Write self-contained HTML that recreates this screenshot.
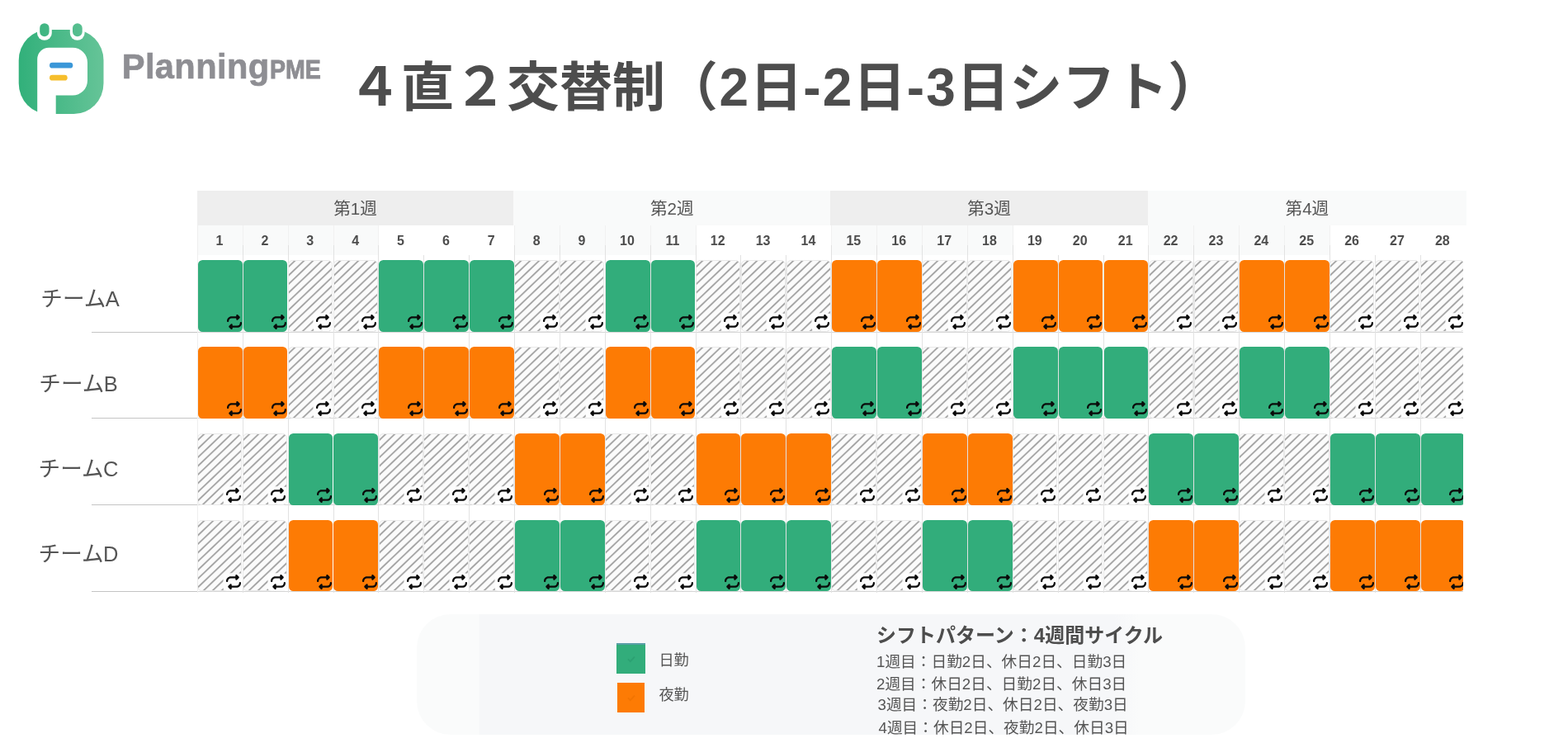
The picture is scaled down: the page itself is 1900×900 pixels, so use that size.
<!DOCTYPE html>
<html lang="ja">
<head>
<meta charset="utf-8">
<title>４直２交替制（2日-2日-3日シフト）</title>
<style>
*{box-sizing:border-box;margin:0;padding:0}
html,body{width:1900px;height:900px;background:#fff;overflow:hidden}
body{position:relative;font-family:"Liberation Sans","Noto Sans CJK JP",sans-serif;color:#4d4d4d}
.logo{position:absolute;left:20px;top:26px;width:110px;height:116px}
.brand{position:absolute;left:147.8px;top:56.2px;font-weight:700;color:#8e8e93;font-size:41.6px;line-height:50px;white-space:nowrap;letter-spacing:0.38px;-webkit-text-stroke:0.7px #8e8e93}
.brand small{display:inline-block;position:relative;top:-0.6px;font-size:31.2px;letter-spacing:0;margin-left:0.4px;transform:scaleX(0.915);transform-origin:0 50%;-webkit-text-stroke:0.9px #8e8e93}
h1{position:absolute;left:422px;top:59.3px;font-size:64px;line-height:94px;font-weight:700;color:#4d4d4d;white-space:nowrap;letter-spacing:0}
h1 b{display:inline-block;width:38.4px;text-align:center;font-weight:700}
h1 i{display:inline-block;width:23px;text-align:center;font-style:normal}
.grid{position:absolute;left:0;top:0;width:1900px;height:740px}
.wk{position:absolute;top:231.4px;height:41.6px;line-height:43.4px;text-align:center;font-size:20.6px;color:#555}
.wk.dark{background:#eeeeee}
.wk.light{background:#f9fafa}
.day{position:absolute;top:41px;height:36px;line-height:37px;text-align:center;font-size:16px;font-weight:700;color:#4d4d4d;padding-right:1.6px}
.day.sh{background:#f9fafa}
.clip{position:absolute;left:239px;top:232px;width:1534.2px;height:500px;overflow:hidden}
.vl{position:absolute;top:41px;width:1px;height:445px;background:linear-gradient(#f1f1f1 0,#f1f1f1 24px,#e2e2e2 24px,#e2e2e2 100%)}
.vl.short{top:77px;height:409px;background:#e2e2e2}
.vl.faint{background:#eee}
.hl{position:absolute;left:111px;width:1662.2px;height:1px;background:linear-gradient(90deg,#c4c4c4 0,#c4c4c4 128px,#d6d6d6 128px)}
.team{position:absolute;width:120px;height:40px;line-height:40px;font-size:26.6px;font-weight:400;color:#555;white-space:nowrap}
.team span{font-size:25.5px;margin-left:-0.5px}
.b{position:absolute;width:53.9px;height:86.4px;margin-top:-0.4px;border-radius:5.5px}
.b.g{background:#32ad7b}
.b.o{background:#fd7b04}
.b.h{width:54.4px;height:86.6px;margin-top:-0.4px;background:#fbfbfb repeating-linear-gradient(136.3deg,rgba(156,156,156,0) 0,rgba(156,156,156,0) 3.45px,rgba(156,156,156,.95) 4.65px,rgba(156,156,156,.95) 5.25px,rgba(156,156,156,0) 6.45px,rgba(156,156,156,0) 7.58px);border:1px solid #e9e9e9}
.b svg{position:absolute;right:1.2px;bottom:2.6px;width:18px;height:18px}
.b.h svg{right:0.9px;bottom:1.6px;background:#fdfdfd;border-radius:2px;box-shadow:0 0 0 1.5px #fdfdfd,-2px 0 0 1.5px #fdfdfd}
.legend{position:absolute;left:505px;top:744.3px;width:1003.5px;height:145.4px;border-radius:41px;background:linear-gradient(90deg,#fafbfb 0,#fafbfb 75px,#f6f7f9 76px,#f6f7f9 845px,#fafbfb 875px)}
.sw{position:absolute}
.sw svg{position:absolute;left:50%;top:50%;width:16px;height:16px;margin:-8px 0 0 -8px}
.lt{position:absolute;font-size:18.2px;line-height:24px;color:#555;white-space:nowrap}
.pt{position:absolute;left:1062px;top:754px;font-size:24px;line-height:32px;font-weight:700;color:#4d4d4d;white-space:nowrap}
.pl{position:absolute;margin-top:0.5px;font-size:18.7px;line-height:26px;color:#555;white-space:nowrap}
</style>
</head>
<body>
<svg width="0" height="0" style="position:absolute">
<defs>
<linearGradient id="lg" gradientUnits="userSpaceOnUse" x1="22" y1="0" x2="126" y2="0"><stop offset="0" stop-color="#31b07a"/><stop offset="1" stop-color="#66c498"/></linearGradient>
<path id="rp" fill="#0a0a0a" d="M0 224c0 17.700 14.300 32 32 32s32-14.300 32-32c0-53 43-96 96-96H320v32c0 12.900 7.800 24.600 19.800 29.600s25.700 2.200 34.900-6.900l64-64c12.500-12.500 12.500-32.800 0-45.300l-64-64c-9.200-9.200-22.900-11.900-34.900-6.900S320 19.100 320 32V64H160C71.600 64 0 135.600 0 224zm512 64c0-17.700-14.300-32-32-32s-32 14.300-32 32c0 53-43 96-96 96H192V352c0-12.900-7.800-24.600-19.800-29.600s-25.700-2.200-34.900 6.900l-64 64c-12.500 12.500-12.500 32.800 0 45.300l64 64c9.200 9.200 22.900 11.900 34.900 6.900s19.800-16.600 19.800-29.600V448H352c88.400 0 160-71.600 160-160z"/>
</defs>
</svg>
<svg class="logo" viewBox="20 26 110 116">
<rect x="22.7" y="36" width="102.8" height="102" rx="36" ry="37" fill="url(#lg)"/>
<rect x="45" y="25" width="17.8" height="23.8" rx="8.9" fill="#fff"/>
<rect x="84.800" y="25" width="17.8" height="23.8" rx="8.9" fill="#fff"/>
<rect x="48.200" y="28.2" width="11.400" height="16" rx="5.700" fill="url(#lg)"/>
<rect x="88" y="28.2" width="11.700" height="16" rx="5.800" fill="url(#lg)"/>
<path d="M45.200 142V71.700a14 14 0 0 1 14-14H88a18 18 0 0 1 18 18v21.800a18 18 0 0 1-18 18H67.700V142z" fill="#fff"/>
<rect x="60" y="75.700" width="28.300" height="6.900" rx="3.450" fill="#3b97d8"/>
<rect x="60" y="90.700" width="21.700" height="6.900" rx="3.450" fill="#f6be2c"/>
</svg>
<div class="brand">Planning<small>PME</small></div>
<h1>４直２交替制（<b>2</b>日<i>-</i><b>2</b>日<i>-</i><b>3</b>日シフト）</h1>
<div class="grid">
<div class="wk dark" style="left:239.0px;width:383.2px">第1週</div>
<div class="wk light" style="left:622.2px;width:384.2px">第2週</div>
<div class="wk dark" style="left:1006.4px;width:384.2px">第3週</div>
<div class="wk light" style="left:1390.6px;width:386.6px">第4週</div>
<div class="hl" style="top:715.8px"></div>
<div class="hl" style="top:611.1px"></div>
<div class="hl" style="top:506.3px"></div>
<div class="hl" style="top:401.5px"></div>
<div class="clip">
<div class="day sh" style="left:0.3px;width:54.9px">1</div>
<div class="day sh" style="left:55.2px;width:54.9px">2</div>
<div class="day sh" style="left:110.1px;width:54.9px">3</div>
<div class="day sh" style="left:165.0px;width:54.9px">4</div>
<div class="day" style="left:219.8px;width:54.9px">5</div>
<div class="day" style="left:274.7px;width:54.9px">6</div>
<div class="day" style="left:329.6px;width:54.9px">7</div>
<div class="day sh" style="left:384.5px;width:54.9px">8</div>
<div class="day sh" style="left:439.4px;width:54.9px">9</div>
<div class="day sh" style="left:494.3px;width:54.9px">10</div>
<div class="day sh" style="left:549.2px;width:54.9px">11</div>
<div class="day" style="left:604.0px;width:54.9px">12</div>
<div class="day" style="left:658.9px;width:54.9px">13</div>
<div class="day" style="left:713.8px;width:54.9px">14</div>
<div class="day sh" style="left:768.7px;width:54.9px">15</div>
<div class="day sh" style="left:823.6px;width:54.9px">16</div>
<div class="day sh" style="left:878.5px;width:54.9px">17</div>
<div class="day sh" style="left:933.3px;width:54.9px">18</div>
<div class="day" style="left:988.2px;width:54.9px">19</div>
<div class="day" style="left:1043.1px;width:54.9px">20</div>
<div class="day" style="left:1098.0px;width:54.9px">21</div>
<div class="day sh" style="left:1152.9px;width:54.9px">22</div>
<div class="day sh" style="left:1207.8px;width:54.9px">23</div>
<div class="day sh" style="left:1262.7px;width:54.9px">24</div>
<div class="day sh" style="left:1317.5px;width:54.9px">25</div>
<div class="day" style="left:1372.4px;width:54.9px">26</div>
<div class="day" style="left:1427.3px;width:54.9px">27</div>
<div class="day" style="left:1482.2px;width:54.9px">28</div>
<div class="vl faint" style="left:-0.2px"></div>
<div class="vl" style="left:54.7px"></div>
<div class="vl" style="left:109.6px"></div>
<div class="vl" style="left:164.5px"></div>
<div class="vl" style="left:219.3px"></div>
<div class="vl short" style="left:274.2px"></div>
<div class="vl short" style="left:329.1px"></div>
<div class="vl" style="left:384.0px"></div>
<div class="vl" style="left:438.9px"></div>
<div class="vl" style="left:493.8px"></div>
<div class="vl" style="left:548.7px"></div>
<div class="vl" style="left:603.5px"></div>
<div class="vl short" style="left:658.4px"></div>
<div class="vl short" style="left:713.3px"></div>
<div class="vl" style="left:768.2px"></div>
<div class="vl" style="left:823.1px"></div>
<div class="vl" style="left:878.0px"></div>
<div class="vl" style="left:932.8px"></div>
<div class="vl" style="left:987.7px"></div>
<div class="vl short" style="left:1042.6px"></div>
<div class="vl short" style="left:1097.5px"></div>
<div class="vl" style="left:1152.4px"></div>
<div class="vl" style="left:1207.3px"></div>
<div class="vl" style="left:1262.2px"></div>
<div class="vl" style="left:1317.0px"></div>
<div class="vl" style="left:1371.9px"></div>
<div class="vl short" style="left:1426.8px"></div>
<div class="vl short" style="left:1481.7px"></div>
<div class="b g" style="left:0.8px;top:83.6px"><svg viewBox="0 0 512 512"><use href="#rp"/></svg></div>
<div class="b g" style="left:55.6px;top:83.6px"><svg viewBox="0 0 512 512"><use href="#rp"/></svg></div>
<div class="b h" style="left:109.8px;top:83.6px"><svg viewBox="0 0 512 512"><use href="#rp"/></svg></div>
<div class="b h" style="left:164.7px;top:83.6px"><svg viewBox="0 0 512 512"><use href="#rp"/></svg></div>
<div class="b g" style="left:220.3px;top:83.6px"><svg viewBox="0 0 512 512"><use href="#rp"/></svg></div>
<div class="b g" style="left:275.2px;top:83.6px"><svg viewBox="0 0 512 512"><use href="#rp"/></svg></div>
<div class="b g" style="left:330.1px;top:83.6px"><svg viewBox="0 0 512 512"><use href="#rp"/></svg></div>
<div class="b h" style="left:384.2px;top:83.6px"><svg viewBox="0 0 512 512"><use href="#rp"/></svg></div>
<div class="b h" style="left:439.1px;top:83.6px"><svg viewBox="0 0 512 512"><use href="#rp"/></svg></div>
<div class="b g" style="left:494.7px;top:83.6px"><svg viewBox="0 0 512 512"><use href="#rp"/></svg></div>
<div class="b g" style="left:549.6px;top:83.6px"><svg viewBox="0 0 512 512"><use href="#rp"/></svg></div>
<div class="b h" style="left:603.7px;top:83.6px"><svg viewBox="0 0 512 512"><use href="#rp"/></svg></div>
<div class="b h" style="left:658.6px;top:83.6px"><svg viewBox="0 0 512 512"><use href="#rp"/></svg></div>
<div class="b h" style="left:713.5px;top:83.6px"><svg viewBox="0 0 512 512"><use href="#rp"/></svg></div>
<div class="b o" style="left:769.1px;top:83.6px"><svg viewBox="0 0 512 512"><use href="#rp"/></svg></div>
<div class="b o" style="left:824.0px;top:83.6px"><svg viewBox="0 0 512 512"><use href="#rp"/></svg></div>
<div class="b h" style="left:878.2px;top:83.6px"><svg viewBox="0 0 512 512"><use href="#rp"/></svg></div>
<div class="b h" style="left:933.0px;top:83.6px"><svg viewBox="0 0 512 512"><use href="#rp"/></svg></div>
<div class="b o" style="left:988.7px;top:83.6px"><svg viewBox="0 0 512 512"><use href="#rp"/></svg></div>
<div class="b o" style="left:1043.6px;top:83.6px"><svg viewBox="0 0 512 512"><use href="#rp"/></svg></div>
<div class="b o" style="left:1098.5px;top:83.6px"><svg viewBox="0 0 512 512"><use href="#rp"/></svg></div>
<div class="b h" style="left:1152.6px;top:83.6px"><svg viewBox="0 0 512 512"><use href="#rp"/></svg></div>
<div class="b h" style="left:1207.5px;top:83.6px"><svg viewBox="0 0 512 512"><use href="#rp"/></svg></div>
<div class="b o" style="left:1263.1px;top:83.6px"><svg viewBox="0 0 512 512"><use href="#rp"/></svg></div>
<div class="b o" style="left:1318.0px;top:83.6px"><svg viewBox="0 0 512 512"><use href="#rp"/></svg></div>
<div class="b h" style="left:1372.1px;top:83.6px"><svg viewBox="0 0 512 512"><use href="#rp"/></svg></div>
<div class="b h" style="left:1427.0px;top:83.6px"><svg viewBox="0 0 512 512"><use href="#rp"/></svg></div>
<div class="b h" style="left:1481.9px;top:83.6px"><svg viewBox="0 0 512 512"><use href="#rp"/></svg></div>
<div class="b o" style="left:0.8px;top:188.5px"><svg viewBox="0 0 512 512"><use href="#rp"/></svg></div>
<div class="b o" style="left:55.6px;top:188.5px"><svg viewBox="0 0 512 512"><use href="#rp"/></svg></div>
<div class="b h" style="left:109.8px;top:188.5px"><svg viewBox="0 0 512 512"><use href="#rp"/></svg></div>
<div class="b h" style="left:164.7px;top:188.5px"><svg viewBox="0 0 512 512"><use href="#rp"/></svg></div>
<div class="b o" style="left:220.3px;top:188.5px"><svg viewBox="0 0 512 512"><use href="#rp"/></svg></div>
<div class="b o" style="left:275.2px;top:188.5px"><svg viewBox="0 0 512 512"><use href="#rp"/></svg></div>
<div class="b o" style="left:330.1px;top:188.5px"><svg viewBox="0 0 512 512"><use href="#rp"/></svg></div>
<div class="b h" style="left:384.2px;top:188.5px"><svg viewBox="0 0 512 512"><use href="#rp"/></svg></div>
<div class="b h" style="left:439.1px;top:188.5px"><svg viewBox="0 0 512 512"><use href="#rp"/></svg></div>
<div class="b o" style="left:494.7px;top:188.5px"><svg viewBox="0 0 512 512"><use href="#rp"/></svg></div>
<div class="b o" style="left:549.6px;top:188.5px"><svg viewBox="0 0 512 512"><use href="#rp"/></svg></div>
<div class="b h" style="left:603.7px;top:188.5px"><svg viewBox="0 0 512 512"><use href="#rp"/></svg></div>
<div class="b h" style="left:658.6px;top:188.5px"><svg viewBox="0 0 512 512"><use href="#rp"/></svg></div>
<div class="b h" style="left:713.5px;top:188.5px"><svg viewBox="0 0 512 512"><use href="#rp"/></svg></div>
<div class="b g" style="left:769.1px;top:188.5px"><svg viewBox="0 0 512 512"><use href="#rp"/></svg></div>
<div class="b g" style="left:824.0px;top:188.5px"><svg viewBox="0 0 512 512"><use href="#rp"/></svg></div>
<div class="b h" style="left:878.2px;top:188.5px"><svg viewBox="0 0 512 512"><use href="#rp"/></svg></div>
<div class="b h" style="left:933.0px;top:188.5px"><svg viewBox="0 0 512 512"><use href="#rp"/></svg></div>
<div class="b g" style="left:988.7px;top:188.5px"><svg viewBox="0 0 512 512"><use href="#rp"/></svg></div>
<div class="b g" style="left:1043.6px;top:188.5px"><svg viewBox="0 0 512 512"><use href="#rp"/></svg></div>
<div class="b g" style="left:1098.5px;top:188.5px"><svg viewBox="0 0 512 512"><use href="#rp"/></svg></div>
<div class="b h" style="left:1152.6px;top:188.5px"><svg viewBox="0 0 512 512"><use href="#rp"/></svg></div>
<div class="b h" style="left:1207.5px;top:188.5px"><svg viewBox="0 0 512 512"><use href="#rp"/></svg></div>
<div class="b g" style="left:1263.1px;top:188.5px"><svg viewBox="0 0 512 512"><use href="#rp"/></svg></div>
<div class="b g" style="left:1318.0px;top:188.5px"><svg viewBox="0 0 512 512"><use href="#rp"/></svg></div>
<div class="b h" style="left:1372.1px;top:188.5px"><svg viewBox="0 0 512 512"><use href="#rp"/></svg></div>
<div class="b h" style="left:1427.0px;top:188.5px"><svg viewBox="0 0 512 512"><use href="#rp"/></svg></div>
<div class="b h" style="left:1481.9px;top:188.5px"><svg viewBox="0 0 512 512"><use href="#rp"/></svg></div>
<div class="b h" style="left:0.0px;top:293.5px"><svg viewBox="0 0 512 512"><use href="#rp"/></svg></div>
<div class="b h" style="left:54.9px;top:293.5px"><svg viewBox="0 0 512 512"><use href="#rp"/></svg></div>
<div class="b g" style="left:110.5px;top:293.5px"><svg viewBox="0 0 512 512"><use href="#rp"/></svg></div>
<div class="b g" style="left:165.4px;top:293.5px"><svg viewBox="0 0 512 512"><use href="#rp"/></svg></div>
<div class="b h" style="left:219.5px;top:293.5px"><svg viewBox="0 0 512 512"><use href="#rp"/></svg></div>
<div class="b h" style="left:274.4px;top:293.5px"><svg viewBox="0 0 512 512"><use href="#rp"/></svg></div>
<div class="b h" style="left:329.3px;top:293.5px"><svg viewBox="0 0 512 512"><use href="#rp"/></svg></div>
<div class="b o" style="left:384.9px;top:293.5px"><svg viewBox="0 0 512 512"><use href="#rp"/></svg></div>
<div class="b o" style="left:439.8px;top:293.5px"><svg viewBox="0 0 512 512"><use href="#rp"/></svg></div>
<div class="b h" style="left:494.0px;top:293.5px"><svg viewBox="0 0 512 512"><use href="#rp"/></svg></div>
<div class="b h" style="left:548.9px;top:293.5px"><svg viewBox="0 0 512 512"><use href="#rp"/></svg></div>
<div class="b o" style="left:604.5px;top:293.5px"><svg viewBox="0 0 512 512"><use href="#rp"/></svg></div>
<div class="b o" style="left:659.4px;top:293.5px"><svg viewBox="0 0 512 512"><use href="#rp"/></svg></div>
<div class="b o" style="left:714.3px;top:293.5px"><svg viewBox="0 0 512 512"><use href="#rp"/></svg></div>
<div class="b h" style="left:768.4px;top:293.5px"><svg viewBox="0 0 512 512"><use href="#rp"/></svg></div>
<div class="b h" style="left:823.3px;top:293.5px"><svg viewBox="0 0 512 512"><use href="#rp"/></svg></div>
<div class="b o" style="left:878.9px;top:293.5px"><svg viewBox="0 0 512 512"><use href="#rp"/></svg></div>
<div class="b o" style="left:933.8px;top:293.5px"><svg viewBox="0 0 512 512"><use href="#rp"/></svg></div>
<div class="b h" style="left:987.9px;top:293.5px"><svg viewBox="0 0 512 512"><use href="#rp"/></svg></div>
<div class="b h" style="left:1042.8px;top:293.5px"><svg viewBox="0 0 512 512"><use href="#rp"/></svg></div>
<div class="b h" style="left:1097.7px;top:293.5px"><svg viewBox="0 0 512 512"><use href="#rp"/></svg></div>
<div class="b g" style="left:1153.3px;top:293.5px"><svg viewBox="0 0 512 512"><use href="#rp"/></svg></div>
<div class="b g" style="left:1208.2px;top:293.5px"><svg viewBox="0 0 512 512"><use href="#rp"/></svg></div>
<div class="b h" style="left:1262.4px;top:293.5px"><svg viewBox="0 0 512 512"><use href="#rp"/></svg></div>
<div class="b h" style="left:1317.2px;top:293.5px"><svg viewBox="0 0 512 512"><use href="#rp"/></svg></div>
<div class="b g" style="left:1372.9px;top:293.5px"><svg viewBox="0 0 512 512"><use href="#rp"/></svg></div>
<div class="b g" style="left:1427.8px;top:293.5px"><svg viewBox="0 0 512 512"><use href="#rp"/></svg></div>
<div class="b g" style="left:1482.6px;top:293.5px"><svg viewBox="0 0 512 512"><use href="#rp"/></svg></div>
<div class="b h" style="left:0.0px;top:398.2px"><svg viewBox="0 0 512 512"><use href="#rp"/></svg></div>
<div class="b h" style="left:54.9px;top:398.2px"><svg viewBox="0 0 512 512"><use href="#rp"/></svg></div>
<div class="b o" style="left:110.5px;top:398.2px"><svg viewBox="0 0 512 512"><use href="#rp"/></svg></div>
<div class="b o" style="left:165.4px;top:398.2px"><svg viewBox="0 0 512 512"><use href="#rp"/></svg></div>
<div class="b h" style="left:219.5px;top:398.2px"><svg viewBox="0 0 512 512"><use href="#rp"/></svg></div>
<div class="b h" style="left:274.4px;top:398.2px"><svg viewBox="0 0 512 512"><use href="#rp"/></svg></div>
<div class="b h" style="left:329.3px;top:398.2px"><svg viewBox="0 0 512 512"><use href="#rp"/></svg></div>
<div class="b g" style="left:384.9px;top:398.2px"><svg viewBox="0 0 512 512"><use href="#rp"/></svg></div>
<div class="b g" style="left:439.8px;top:398.2px"><svg viewBox="0 0 512 512"><use href="#rp"/></svg></div>
<div class="b h" style="left:494.0px;top:398.2px"><svg viewBox="0 0 512 512"><use href="#rp"/></svg></div>
<div class="b h" style="left:548.9px;top:398.2px"><svg viewBox="0 0 512 512"><use href="#rp"/></svg></div>
<div class="b g" style="left:604.5px;top:398.2px"><svg viewBox="0 0 512 512"><use href="#rp"/></svg></div>
<div class="b g" style="left:659.4px;top:398.2px"><svg viewBox="0 0 512 512"><use href="#rp"/></svg></div>
<div class="b g" style="left:714.3px;top:398.2px"><svg viewBox="0 0 512 512"><use href="#rp"/></svg></div>
<div class="b h" style="left:768.4px;top:398.2px"><svg viewBox="0 0 512 512"><use href="#rp"/></svg></div>
<div class="b h" style="left:823.3px;top:398.2px"><svg viewBox="0 0 512 512"><use href="#rp"/></svg></div>
<div class="b g" style="left:878.9px;top:398.2px"><svg viewBox="0 0 512 512"><use href="#rp"/></svg></div>
<div class="b g" style="left:933.8px;top:398.2px"><svg viewBox="0 0 512 512"><use href="#rp"/></svg></div>
<div class="b h" style="left:987.9px;top:398.2px"><svg viewBox="0 0 512 512"><use href="#rp"/></svg></div>
<div class="b h" style="left:1042.8px;top:398.2px"><svg viewBox="0 0 512 512"><use href="#rp"/></svg></div>
<div class="b h" style="left:1097.7px;top:398.2px"><svg viewBox="0 0 512 512"><use href="#rp"/></svg></div>
<div class="b o" style="left:1153.3px;top:398.2px"><svg viewBox="0 0 512 512"><use href="#rp"/></svg></div>
<div class="b o" style="left:1208.2px;top:398.2px"><svg viewBox="0 0 512 512"><use href="#rp"/></svg></div>
<div class="b h" style="left:1262.4px;top:398.2px"><svg viewBox="0 0 512 512"><use href="#rp"/></svg></div>
<div class="b h" style="left:1317.2px;top:398.2px"><svg viewBox="0 0 512 512"><use href="#rp"/></svg></div>
<div class="b o" style="left:1372.9px;top:398.2px"><svg viewBox="0 0 512 512"><use href="#rp"/></svg></div>
<div class="b o" style="left:1427.8px;top:398.2px"><svg viewBox="0 0 512 512"><use href="#rp"/></svg></div>
<div class="b o" style="left:1482.6px;top:398.2px"><svg viewBox="0 0 512 512"><use href="#rp"/></svg></div>
</div>
<div class="team" style="left:49.3px;top:341.8px">チーム<span>A</span></div>
<div class="team" style="left:47.3px;top:445px">チーム<span>B</span></div>
<div class="team" style="left:46.6px;top:548px">チーム<span>C</span></div>
<div class="team" style="left:46.6px;top:651.2px">チーム<span>D</span></div>
</div>
<div class="legend"></div>
<div class="sw" style="left:747.2px;top:778.8px;width:34.8px;height:37px;background:#32ad7b;border-top:2px solid #5a9fa6"><svg viewBox="0 0 20 20"><path d="M5 10.5l3.5 3.5L15 7" fill="none" stroke="#2ca172" stroke-width="2.2"/></svg></div>
<div class="sw" style="left:748.2px;top:826.6px;width:32.8px;height:36.2px;background:#fd7b04"><svg viewBox="0 0 20 20"><path d="M5 10.5l3.500 3.500L15 7" fill="none" stroke="#f27400" stroke-width="2.2"/></svg></div>
<div class="lt" style="left:798.4px;top:787.8px">日勤</div>
<div class="lt" style="left:798.4px;top:829.8px">夜勤</div>
<div class="pt">シフトパターン：<span>4</span>週間サイクル</div>
<div class="pl" style="left:1062px;top:788.2px"><span>1</span>週目：日勤<span>2</span>日、休日<span>2</span>日、日勤<span>3</span>日</div>
<div class="pl" style="left:1062px;top:815.6px"><span>2</span>週目：休日<span>2</span>日、日勤<span>2</span>日、休日<span>3</span>日</div>
<div class="pl" style="left:1063.5px;top:840.6px"><span>3</span>週目：夜勤<span>2</span>日、休日<span>2</span>日、夜勤<span>3</span>日</div>
<div class="pl" style="left:1064.5px;top:868px"><span>4</span>週目：休日<span>2</span>日、夜勤<span>2</span>日、休日<span>3</span>日</div>
</body>
</html>
